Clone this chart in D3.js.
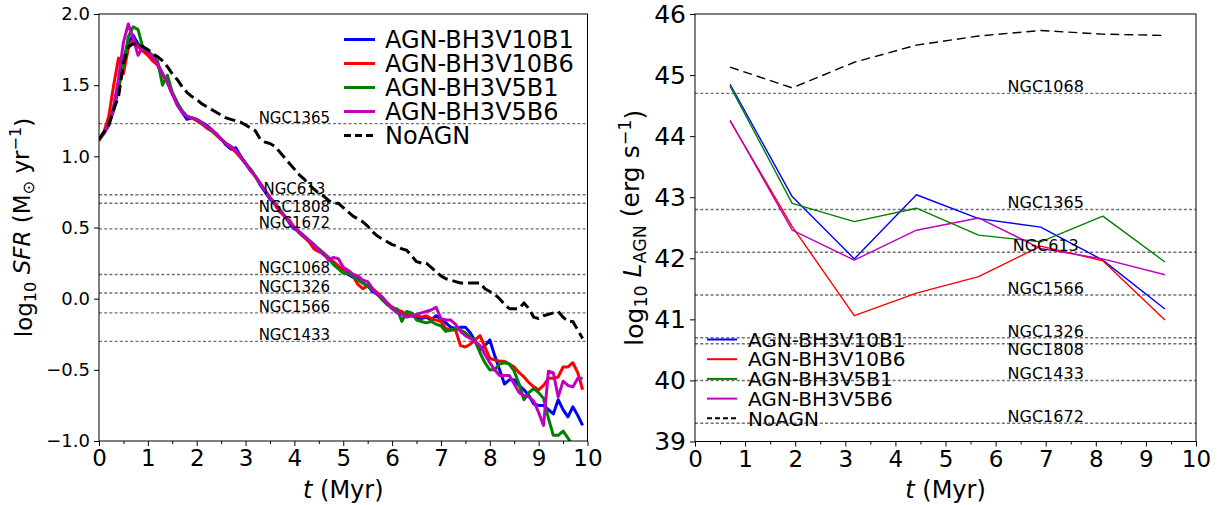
<!DOCTYPE html>
<html><head><meta charset="utf-8">
<script src="https://cdn.jsdelivr.net/npm/d3@7"></script>
<style>body{margin:0;background:#fff} text{font-family:"DejaVu Sans",sans-serif;fill:#000}</style>
</head><body><svg id="c" width="1222" height="505"></svg>
<script>
// ---------- DATA ----------
const sfrTime = [0.0,0.1,0.2,0.3,0.4,0.5,0.6,0.7,0.8,0.9,1.0,1.1,1.2,1.3,1.4,1.5,1.6,1.7,1.8,1.9,2.0,2.1,2.2,2.3,2.4,2.5,2.6,2.7,2.8,2.9,3.0,3.1,3.2,3.3,3.4,3.5,3.6,3.7,3.8,3.9,4.0,4.1,4.2,4.3,4.4,4.5,4.6,4.7,4.8,4.9,5.0,5.1,5.2,5.3,5.4,5.5,5.6,5.7,5.8,5.9,6.0,6.1,6.2,6.3,6.4,6.5,6.6,6.7,6.8,6.9,7.0,7.1,7.2,7.3,7.4,7.5,7.6,7.7,7.8,7.9,8.0,8.1,8.2,8.3,8.4,8.5,8.6,8.7,8.8,8.9,9.0,9.1,9.2,9.3,9.4,9.5,9.6,9.7,9.8,9.9];
const sfrV10B1 = [1.12,1.16,1.22,1.35,1.52,1.68,1.80,1.85,1.79,1.76,
1.72,1.69,1.65,1.58,1.52,1.44,1.37,1.31,1.26,1.27,
1.26,1.24,1.22,1.19,1.15,1.12,1.08,1.05,1.06,1.00,
0.95,0.91,0.86,0.80,0.75,0.70,0.67,0.62,0.58,0.53,
0.49,0.47,0.44,0.40,0.38,0.34,0.31,0.28,0.25,0.22,
0.19,0.17,0.15,0.14,0.11,0.09,0.05,0.03,0.00,-0.04,
-0.06,-0.08,-0.10,-0.11,-0.12,-0.13,-0.14,-0.13,-0.15,-0.12,
-0.14,-0.17,-0.20,-0.21,-0.20,-0.20,-0.24,-0.30,-0.36,-0.33,
-0.29,-0.40,-0.50,-0.60,-0.57,-0.57,-0.61,-0.64,-0.68,-0.74,
-0.75,-0.75,-0.78,-0.81,-0.71,-0.78,-0.83,-0.76,-0.82,-0.89];
const sfrV10B6 = [1.11,1.17,1.28,1.50,1.69,1.58,1.76,1.82,1.77,1.74,
1.71,1.67,1.64,1.57,1.52,1.44,1.37,1.32,1.28,1.27,
1.25,1.23,1.20,1.18,1.15,1.12,1.09,1.06,1.03,0.99,
0.95,0.90,0.86,0.81,0.76,0.71,0.66,0.61,0.58,0.55,
0.50,0.46,0.43,0.40,0.35,0.33,0.32,0.29,0.26,0.23,
0.20,0.18,0.16,0.10,0.07,0.09,0.07,0.04,0.01,-0.03,
-0.06,-0.08,-0.09,-0.11,-0.12,-0.12,-0.13,-0.12,-0.14,-0.15,
-0.16,-0.21,-0.22,-0.22,-0.33,-0.34,-0.32,-0.29,-0.26,-0.34,
-0.42,-0.43,-0.44,-0.44,-0.46,-0.48,-0.52,-0.55,-0.59,-0.62,
-0.64,-0.61,-0.56,-0.56,-0.55,-0.48,-0.48,-0.45,-0.52,-0.64];
const sfrV5B1 = [1.12,1.17,1.22,1.32,1.47,1.64,1.84,1.91,1.89,1.76,
1.74,1.71,1.67,1.50,1.57,1.45,1.38,1.32,1.28,1.27,
1.26,1.23,1.21,1.18,1.16,1.12,1.09,1.07,1.04,1.00,
0.95,0.91,0.86,0.81,0.76,0.71,0.67,0.63,0.58,0.54,
0.50,0.47,0.44,0.41,0.38,0.35,0.32,0.28,0.24,0.21,
0.18,0.18,0.16,0.13,0.11,0.09,0.06,0.03,-0.01,-0.04,
-0.07,-0.07,-0.16,-0.09,-0.10,-0.15,-0.16,-0.17,-0.16,-0.18,
-0.19,-0.23,-0.22,-0.21,-0.22,-0.24,-0.27,-0.30,-0.38,-0.45,
-0.50,-0.50,-0.46,-0.45,-0.46,-0.51,-0.60,-0.71,-0.66,-0.63,
-0.66,-0.70,-0.84,-0.96,-0.96,-0.93,-0.98,-1.03];
const sfrV5B6 = [1.12,1.16,1.22,1.34,1.55,1.80,1.93,1.83,1.71,1.77,
1.74,1.70,1.65,1.58,1.52,1.44,1.36,1.31,1.28,1.27,
1.26,1.24,1.21,1.19,1.16,1.12,1.09,1.07,1.04,1.00,
0.95,0.90,0.86,0.81,0.76,0.71,0.67,0.62,0.58,0.54,
0.50,0.47,0.44,0.41,0.38,0.34,0.32,0.27,0.29,0.28,
0.22,0.20,0.17,0.16,0.13,0.12,0.07,0.03,0.01,-0.03,
-0.07,-0.10,-0.11,-0.13,-0.12,-0.11,-0.10,-0.09,-0.08,-0.06,
-0.14,-0.15,-0.15,-0.18,-0.23,-0.26,-0.28,-0.30,-0.33,-0.39,
-0.45,-0.50,-0.54,-0.54,-0.54,-0.60,-0.66,-0.68,-0.69,-0.72,
-0.80,-0.89,-0.51,-0.52,-0.69,-0.58,-0.61,-0.62,-0.56,-0.56];
const sfrNoAGN = [1.12,1.17,1.22,1.33,1.42,1.65,1.77,1.79,1.79,1.77,
1.75,1.72,1.70,1.67,1.63,1.58,1.54,1.49,1.45,1.42,
1.40,1.37,1.35,1.33,1.31,1.29,1.27,1.26,1.25,1.24,
1.22,1.20,1.18,1.12,1.10,1.09,1.07,1.03,0.99,0.95,
0.91,0.87,0.84,0.80,0.77,0.74,0.72,0.69,0.67,0.67,
0.64,0.61,0.58,0.56,0.54,0.51,0.47,0.44,0.42,0.40,
0.38,0.37,0.35,0.34,0.30,0.26,0.25,0.25,0.22,0.19,
0.16,0.14,0.13,0.12,0.11,0.11,0.11,0.11,0.11,0.07,
0.05,0.03,0.00,-0.04,-0.07,-0.07,-0.07,-0.03,-0.07,-0.13,
-0.14,-0.12,-0.11,-0.10,-0.09,-0.13,-0.16,-0.16,-0.22,-0.28];

const lagnTime = [0.70,1.94,3.18,4.42,5.66,6.90,8.14,9.38];
const lagnNoAGNTime = [0.70,1.94,3.18,4.42,5.66,6.90,8.14,9.32];
const lagnV10B1 = [44.85,43.01,41.99,43.04,42.65,42.51,41.97,41.17];
const lagnV10B6 = [44.25,42.52,41.06,41.43,41.70,42.20,41.96,40.99];
const lagnV5B1  = [44.82,42.90,42.60,42.82,42.38,42.27,42.69,41.94];
const lagnV5B6  = [44.26,42.46,41.97,42.46,42.66,42.16,41.99,41.73];
const lagnNoAGN = [45.13,44.79,45.21,45.49,45.64,45.73,45.67,45.65];

const seriesNames  = ["AGN-BH3V10B1","AGN-BH3V10B6","AGN-BH3V5B1","AGN-BH3V5B6","NoAGN"];
const seriesColors = ["#0000ff","#ff0000","#008000","#bf00bf","#000000"];

const sfrRefNames  = ["NGC1365","NGC613","NGC1808","NGC1672","NGC1068","NGC1326","NGC1566","NGC1433"];
const sfrRefValues = [1.23,0.73,0.67,0.49,0.17,0.04,-0.10,-0.30];
const lagnRefNames  = ["NGC1068","NGC1365","NGC613","NGC1566","NGC1326","NGC1808","NGC1433","NGC1672"];
const lagnRefValues = [44.7,42.8,42.1,41.4,40.7,40.6,40.0,39.3];

const timeTicks = [0,1,2,3,4,5,6,7,8,9,10];
const timeMinorTicks = [0.5,1.5,2.5,3.5,4.5,5.5,6.5,7.5,8.5,9.5];
const sfrTicks = [-1.0,-0.5,0.0,0.5,1.0,1.5,2.0];
const lagnTicks = [39,40,41,42,43,44,45,46];

// ---------- DRAW ----------
const svg = d3.select("#c");
svg.append("rect").attr("width",1222).attr("height",505).attr("fill","#fff");

function panel(cfg){
  const g = svg.append("g");
  const x = d3.scaleLinear().domain([0,10]).range([cfg.x0,cfg.x1]);
  const y = d3.scaleLinear().domain(cfg.ydom).range([cfg.y1,cfg.y0]);
  const clipId = "clip"+cfg.id;
  svg.append("clipPath").attr("id",clipId).append("rect")
    .attr("x",cfg.x0).attr("y",cfg.y0).attr("width",cfg.x1-cfg.x0).attr("height",cfg.y1-cfg.y0);
  const plot = g.append("g").attr("clip-path",`url(#${clipId})`);
  // reference lines
  cfg.refNames.forEach((n,i)=>{
    const yy = y(cfg.refValues[i]);
    plot.append("line").attr("x1",cfg.x0).attr("x2",cfg.x1).attr("y1",yy).attr("y2",yy)
      .attr("stroke","#707070").attr("stroke-width",1.4).attr("stroke-dasharray","3,2.2");
    const below = n==="NGC1808";
    g.append("text").attr("x",x(cfg.refLabelT)).attr("y",below? yy+cfg.belowDy : yy-1)
      .attr("text-anchor","middle").attr("font-size",cfg.refFont).text(n);
  });
  // series
  const line = d3.line().x(d=>x(d[0])).y(d=>y(d[1]));
  cfg.series.forEach((s,i)=>{
    const pts = s.vals.map((v,k)=>[s.t[k],v]);
    plot.append("path").attr("d",line(pts)).attr("fill","none")
      .attr("stroke",seriesColors[i]).attr("stroke-width",cfg.lw)
      .attr("stroke-linejoin","round")
      .attr("stroke-dasharray", i===4 ? cfg.dash : null);
  });
  // axes
  const ax = g.append("g").attr("transform",`translate(0,${cfg.y1})`)
    .call(d3.axisBottom(x).tickValues(timeTicks).tickSize(5).tickPadding(4).tickFormat(d3.format("d")));
  ax.selectAll("text").attr("font-size",cfg.xFont).attr("font-family","DejaVu Sans");
  const axm = g.append("g").attr("transform",`translate(0,${cfg.y1})`)
    .call(d3.axisBottom(x).tickValues(timeMinorTicks).tickSize(3).tickFormat(""));
  const ay = g.append("g").attr("transform",`translate(${cfg.x0},0)`)
    .call(d3.axisLeft(y).tickValues(cfg.yticks).tickSize(5).tickPadding(4).tickFormat(cfg.yfmt));
  ay.selectAll("text").attr("font-size",cfg.yFont).attr("font-family","DejaVu Sans");
  [ax,axm,ay].forEach(a=>{a.select(".domain").remove(); a.selectAll("line").attr("stroke","#000");});
  g.append("rect").attr("x",cfg.x0).attr("y",cfg.y0).attr("width",cfg.x1-cfg.x0).attr("height",cfg.y1-cfg.y0)
    .attr("fill","none").attr("stroke","#000").attr("stroke-width",1);
  // x label
  const xl = g.append("text").attr("x",(cfg.x0+cfg.x1)/2).attr("y",cfg.xLabelY)
    .attr("text-anchor","middle").attr("font-size",cfg.xLabelFont);
  xl.append("tspan").attr("font-style","italic").text("t");
  xl.append("tspan").text(" (Myr)");
  // y label
  const yl = g.append("text").attr("transform",`translate(${cfg.yLabelX},${(cfg.y0+cfg.y1)/2}) rotate(-90)`)
    .attr("text-anchor","middle").attr("font-size",cfg.yLabelFont);
  let cur = 0;
  cfg.yLabelParts.forEach(p=>{
    const shift = p.shift||0;
    const t = yl.append("tspan").attr("dy",(shift-cur)+"em").text(p.t);
    if(p.small) t.attr("font-size",(cfg.yLabelFont*0.7)+"px");
    if(p.it) t.attr("font-style","italic");
    cur = shift;
  });
  // legend
  seriesNames.forEach((n,i)=>{
    const yy = cfg.legY0 + i*cfg.legDy;
    g.append("line").attr("x1",cfg.legX).attr("x2",cfg.legX+cfg.legLen).attr("y1",yy).attr("y2",yy)
      .attr("stroke",seriesColors[i]).attr("stroke-width",cfg.legLw)
      .attr("stroke-dasharray", i===4 ? cfg.legDash : null);
    g.append("text").attr("x",cfg.legX+cfg.legLen+cfg.legGap).attr("y",yy+cfg.legFont*0.36)
      .attr("font-size",cfg.legFont).text(n);
  });
}

panel({
  id:"L", x0:99, x1:587.5, y0:14, y1:441, ydom:[-1,2],
  refNames:sfrRefNames, refValues:sfrRefValues, refLabelT:4.0, refFont:15, belowDy:8.5,
  series:[{t:sfrTime,vals:sfrV10B1},{t:sfrTime,vals:sfrV10B6},{t:sfrTime,vals:sfrV5B1},{t:sfrTime,vals:sfrV5B6},{t:sfrTime,vals:sfrNoAGN}],
  lw:3, dash:"11,5",
  yticks:sfrTicks, yfmt:d3.format(".1f"), yFont:18, xFont:23,
  xLabelY:498, xLabelFont:24, yLabelX:32, yLabelFont:23,
  yLabelParts:[{t:"log"},{t:"10",small:true,shift:0.25},{t:" ",shift:0},{t:"SFR",it:true},{t:" (M"},{t:"⊙",small:true,shift:0.25},{t:" yr",shift:0},{t:"−1",small:true,shift:-0.45},{t:")",shift:0}],
  legX:344, legLen:31, legGap:10, legY0:39.5, legDy:24, legFont:24, legLw:3, legDash:"7,4"
});
panel({
  id:"R", x0:695, x1:1196, y0:14, y1:441.5, ydom:[39,46],
  refNames:lagnRefNames, refValues:lagnRefValues, refLabelT:7.0, refFont:16, belowDy:11.5,
  series:[{t:lagnTime,vals:lagnV10B1},{t:lagnTime,vals:lagnV10B6},{t:lagnTime,vals:lagnV5B1},{t:lagnTime,vals:lagnV5B6},{t:lagnNoAGNTime,vals:lagnNoAGN}],
  lw:1.4, dash:"9,5",
  yticks:lagnTicks, yfmt:d3.format("d"), yFont:25, xFont:23,
  xLabelY:498, xLabelFont:24, yLabelX:643, yLabelFont:25,
  yLabelParts:[{t:"log"},{t:"10",small:true,shift:0.25},{t:" ",shift:0},{t:"L",it:true},{t:"AGN",small:true,shift:0.25},{t:" (erg s",shift:0},{t:"−1",small:true,shift:-0.45},{t:")",shift:0}],
  legX:707, legLen:30, legGap:11, legY0:339.5, legDy:19.7, legFont:20, legLw:2, legDash:"5,3"
});
</script></body></html>
